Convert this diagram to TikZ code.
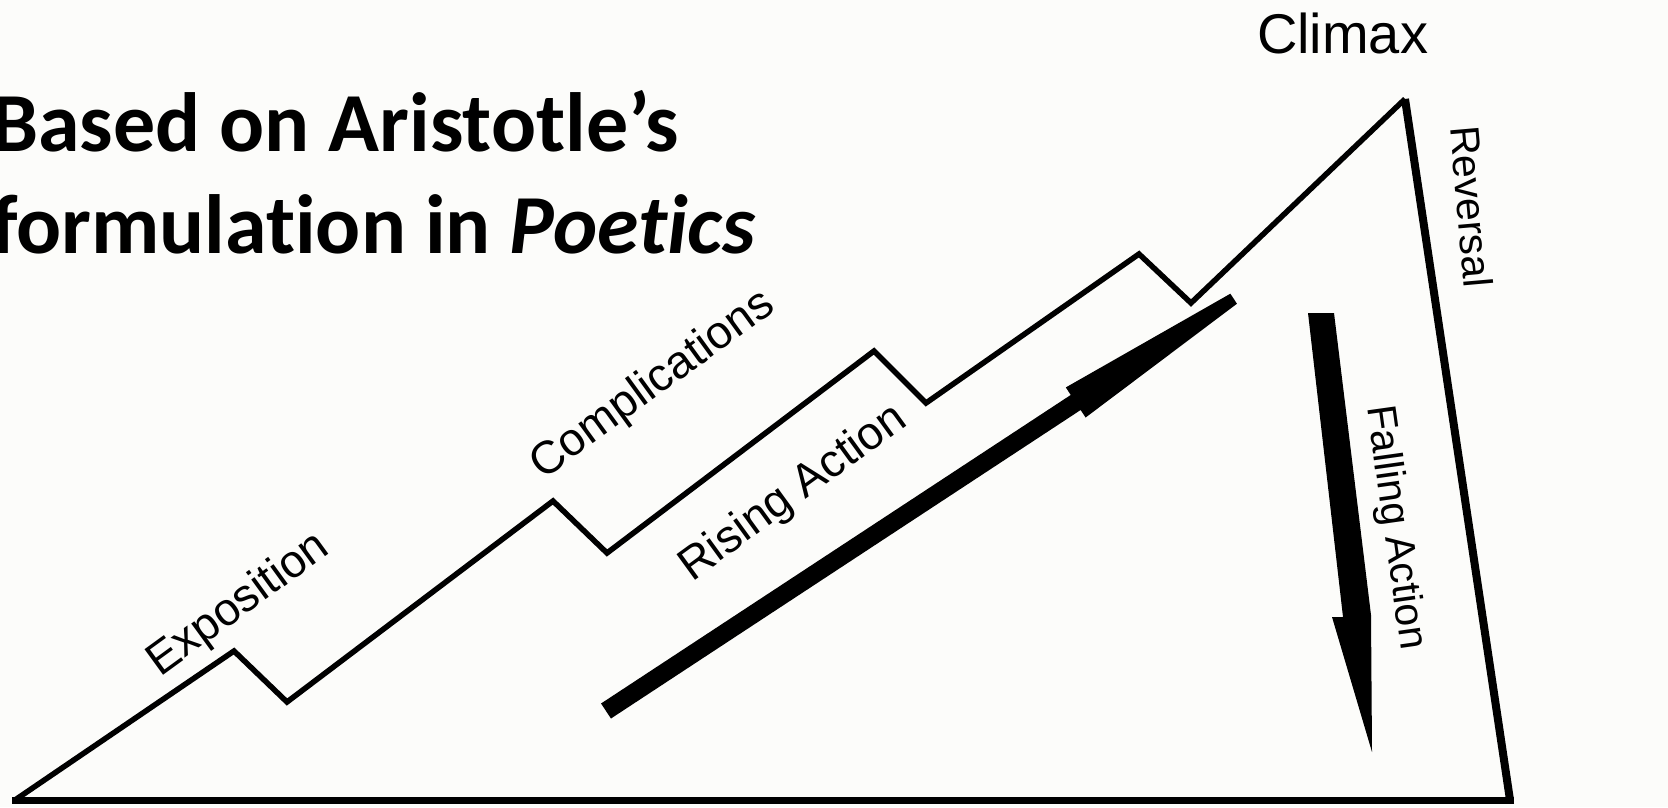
\documentclass[tikz,border=0pt]{standalone}
\usepackage{fontspec}
\setmainfont{Liberation Sans}
\newfontfamily\titlefont[Ligatures=NoCommon]{Carlito}
\definecolor{bgcol}{RGB}{252,252,250}
\begin{document}
\begin{tikzpicture}[x=1pt,y=-1pt,
  lbl/.style={inner sep=0pt, outer sep=0pt, text=black},
  titletext/.style={lbl, anchor=base west, font=\titlefont\bfseries\fontsize{84}{100}\selectfont},
  diag/.style={lbl, anchor=base west, rotate=36, font=\fontsize{46}{52}\selectfont},
  vert/.style={lbl, anchor=base west, font=\fontsize{41}{48}\selectfont},
  zig/.style={line width=5.5pt, line join=miter},
  side/.style={line width=8pt, line cap=butt},
  base/.style={line width=7pt, line cap=butt},
  arrowfill/.style={fill=black, draw=none}]
\useasboundingbox (0,0) rectangle (1668,807);
\fill[bgcol] (0,0) rectangle (1668,807);

% title
\node[titletext] (title1) at (-9,151) {Based on Aristotle’s};
\node[titletext] (title2) at (-9,253) {formulation in \textit{Poetics}};

% vertices
\coordinate (bl) at (15,800);
\coordinate (p1) at (234,651);
\coordinate (v1) at (287,702);
\coordinate (p2) at (553,501);
\coordinate (v2) at (607,553);
\coordinate (p3) at (874,351);
\coordinate (v3) at (926,403);
\coordinate (p4) at (1139,254);
\coordinate (v4) at (1191,303);
\coordinate (apex) at (1405,99);
\coordinate (br) at (1510,800);

\draw[zig] (bl) -- (p1) -- (v1) -- (p2) -- (v2) -- (p3) -- (v3) -- (p4) -- (v4) -- (apex);
\draw[side] (apex) -- (br);
\draw[base] ([xshift=4pt]br) -- ([xshift=-3pt]bl);

% rising action arrow
\begin{scope}[shift={(606,711)}, rotate=33.3]
  \fill[arrowfill] (0,-9) -- (562,-9) -- (562,-18) -- (751,-6) -- (751,6) -- (562,18) -- (562,9) -- (0,9) -- cycle;
\end{scope}

% falling action arrow
\fill[arrowfill] (1308,313) -- (1334,313) -- (1371,615) -- (1372,752) -- (1332,617) -- (1343,617) -- cycle;

% labels
\node[lbl, anchor=base west, font=\fontsize{56}{64}\selectfont] (climax) at (1257,53) {Climax};
\node[diag] (expo) at (160,677) {Exposition};
\node[diag] (compl) at (543,480) {Complications};
\node[diag] (rising) at (692,582) {Rising Action};
\node[vert, rotate=-85] (reversal) at (1450,127) {Reversal};
\node[vert, rotate=-82] (falling) at (1367,407) {Falling Action};
\end{tikzpicture}
\end{document}
